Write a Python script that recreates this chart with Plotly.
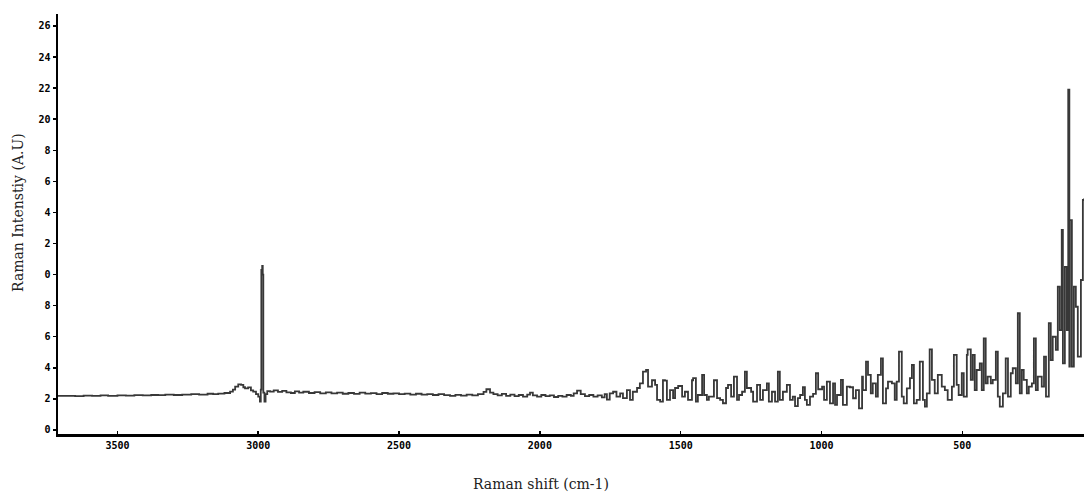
import plotly.graph_objects as go

# Raman shift (cm-1), descending, and intensity (A.U)
shift_cm1 = [
    3711, 3680, 3650, 3620, 3590, 3560, 3533, 3500, 3470, 3440, 3410, 3380, 3355, 3330, 3300,
    3270, 3238, 3210, 3180, 3160, 3142, 3120, 3100, 3090, 3082, 3071, 3061, 3053, 3047, 3036,
    3026, 3018, 3008, 3000, 2994, 2991, 2989, 2986, 2984, 2982, 2978, 2974, 2968, 2958, 2945,
    2930, 2915, 2900, 2884, 2870, 2855, 2840, 2820, 2800, 2780, 2760, 2740, 2720, 2700, 2680,
    2660, 2640, 2620, 2600, 2580, 2560, 2540, 2520, 2500, 2480, 2460, 2440, 2420, 2400, 2380,
    2360, 2340, 2319, 2300, 2280, 2260, 2240, 2220, 2200, 2190, 2177, 2165, 2150, 2135, 2120,
    2105, 2090, 2075, 2060, 2045, 2035, 2025, 2010, 1995, 1980, 1965, 1950, 1935, 1920, 1905,
    1890, 1880, 1868, 1855, 1840, 1825, 1810, 1795, 1780, 1770, 1762, 1752, 1740, 1728,
    1715, 1705, 1691, 1680, 1670, 1655, 1645, 1634, 1623, 1616, 1602, 1591, 1584, 1573, 1563,
    1556, 1549, 1538, 1527, 1520, 1509, 1495, 1485, 1474, 1460, 1456, 1446, 1439, 1424, 1417,
    1407, 1400, 1382, 1371, 1360, 1350, 1339, 1332, 1321, 1311, 1300, 1293, 1282, 1272, 1265,
    1250, 1243, 1229, 1218, 1208, 1194, 1187, 1176, 1165, 1155, 1148, 1137, 1123, 1112, 1102,
    1094, 1084, 1076, 1066, 1059, 1052, 1041, 1030, 1020, 1012, 998, 991, 981, 970, 959,
    952, 945, 931, 924, 910, 899, 888, 878, 867, 856, 853, 842, 835, 825, 818,
    807, 800, 789, 782, 771, 764, 750, 740, 733, 725, 715, 708, 697, 686, 679,
    672, 662, 651, 640, 633, 626, 616, 608, 598, 587, 573, 562, 552, 537, 530,
    520, 513, 502, 495, 484, 481, 470, 463, 456, 449, 438, 431, 424, 417, 410,
    399, 392, 381, 374, 367, 356, 346, 338, 328, 321, 310, 303, 296, 289, 282,
    271, 264, 253, 246, 239, 232, 218, 210, 203, 193, 186, 179, 168, 161, 154,
    147, 143, 136, 129, 124, 120, 118, 111, 104, 97, 90, 79, 72, 68,
]

intensity = [
    2.19, 2.20, 2.18, 2.21, 2.20, 2.22, 2.20, 2.23, 2.21, 2.24, 2.22, 2.25, 2.24, 2.27, 2.25,
    2.28, 2.30, 2.28, 2.33, 2.30, 2.34, 2.38, 2.47, 2.60, 2.79, 2.94, 2.90, 2.75, 2.68, 2.74,
    2.55, 2.47, 2.30, 2.14, 1.82, 2.60, 10.30, 10.56, 10.00, 2.40, 1.82, 2.30, 2.50, 2.47, 2.55,
    2.45, 2.52, 2.42, 2.38, 2.48, 2.40, 2.46, 2.38, 2.44, 2.36, 2.42, 2.35, 2.40, 2.33, 2.38,
    2.32, 2.40, 2.34, 2.37, 2.30, 2.38, 2.33, 2.36, 2.30, 2.34, 2.28, 2.33, 2.27, 2.31, 2.25,
    2.30, 2.24, 2.20, 2.26, 2.21, 2.28, 2.22, 2.30, 2.45, 2.62, 2.40, 2.30, 2.22, 2.32, 2.20,
    2.28, 2.18, 2.25, 2.15, 2.28, 2.40, 2.22, 2.15, 2.25, 2.18, 2.22, 2.12, 2.20, 2.15, 2.25,
    2.20, 2.35, 2.53, 2.30, 2.18, 2.25, 2.15, 2.22, 2.10, 2.30, 1.95, 2.35, 2.46, 2.15,
    2.36, 2.05, 2.57, 1.93, 2.46, 2.70, 3.00, 3.75, 3.86, 2.79, 3.20, 2.90, 1.93, 1.82, 3.20,
    3.17, 1.93, 2.57, 2.05, 2.70, 2.83, 2.15, 2.46, 1.93, 3.20, 3.33, 1.82, 2.25, 3.54, 2.25,
    1.93, 2.14, 3.20, 2.05, 1.93, 1.72, 2.70, 2.90, 2.14, 3.43, 1.93, 2.25, 2.46, 3.75, 2.70,
    2.46, 1.82, 2.90, 1.93, 2.57, 3.00, 1.82, 2.46, 1.82, 3.75, 1.93, 2.46, 2.90, 1.93, 2.14,
    1.54, 2.05, 2.25, 2.75, 1.93, 1.61, 2.14, 2.32, 3.65, 2.62, 2.79, 1.93, 3.11, 1.71, 3.00,
    1.61, 2.25, 3.22, 1.61, 2.79, 2.75, 2.04, 2.57, 1.39, 3.43, 2.57, 4.40, 3.54, 2.36, 3.00,
    2.14, 3.54, 4.61, 1.71, 2.68, 3.11, 3.00, 1.93, 3.11, 5.04, 2.14, 1.71, 2.68, 3.33, 4.18,
    1.71, 1.93, 4.40, 1.93, 1.50, 2.36, 5.19, 3.22, 2.36, 3.54, 2.79, 2.57, 1.93, 2.79, 4.83,
    2.90, 2.25, 3.65, 2.14, 4.83, 5.19, 3.22, 4.83, 2.57, 3.86, 4.29, 2.57, 5.90, 3.00, 3.43,
    3.00, 3.22, 5.04, 2.14, 1.50, 2.36, 4.61, 2.14, 3.65, 3.97, 3.00, 7.51, 2.36, 3.86, 3.22,
    2.36, 2.79, 3.00, 5.90, 2.57, 3.43, 2.79, 4.72, 2.14, 6.87, 4.50, 6.00, 5.15, 9.22, 6.43,
    12.87, 4.29, 10.50, 6.43, 21.90, 4.07, 13.50, 4.07, 9.22, 7.93, 4.72, 9.65, 14.80, 14.90,
]

x_tick_vals = [3500, 3000, 2500, 2000, 1500, 1000, 500]
x_tick_text = ["3500", "3000", "2500", "2000", "1500", "1000", "500"]
y_tick_vals = [0, 2, 4, 6, 8, 10, 12, 14, 16, 18, 20, 22, 24, 26]
y_tick_text = ["0", "2", "4", "6", "8", "0", "2", "4", "6", "8", "20", "22", "24", "26"]

fig = go.Figure()
fig.add_trace(go.Scatter(
    x=shift_cm1, y=intensity, mode="lines",
    line=dict(color="#383838", width=1.8, shape="hv"),
    showlegend=False, hoverinfo="skip",
))

tick_font = dict(family="DejaVu Sans Mono", size=10, color="black", weight="bold")
title_font = dict(family="DejaVu Serif", size=14, color="#222222")

fig.update_layout(
    width=1084, height=495, autosize=False,
    margin=dict(l=58, r=0, t=14, b=61, autoexpand=False),
    paper_bgcolor="white", plot_bgcolor="white",
    xaxis=dict(
        range=[3711, 68], showgrid=False, zeroline=False, automargin=False,
        showline=True, linecolor="black", linewidth=2.5,
        ticks="inside", ticklen=3, tickwidth=1.5, tickcolor="black",
        tickvals=x_tick_vals, ticktext=x_tick_text, tickfont=tick_font,
    ),
    yaxis=dict(
        range=[-0.26, 26.77], showgrid=False, zeroline=False, automargin=False,
        showline=True, linecolor="black", linewidth=2.5,
        ticks="outside", ticklen=3, tickwidth=1.5, tickcolor="black",
        tickvals=y_tick_vals, ticktext=y_tick_text, tickfont=tick_font,
    ),
    annotations=[
        dict(text="Raman Intenstiy (A.U)", xref="paper", yref="paper",
             x=-0.039, y=0.5286, textangle=-90, showarrow=False,
             font=title_font, xanchor="center", yanchor="middle"),
        dict(text="Raman shift (cm-1)", xref="paper", yref="paper",
             x=0.4708, y=-0.119, showarrow=False,
             font=title_font, xanchor="center", yanchor="middle"),
    ],
)

fig.write_html(
    "out.html",
    config={"displayModeBar": False, "staticPlot": True},
    post_script="document.body.style.margin='0';document.body.style.overflow='hidden';",
)
